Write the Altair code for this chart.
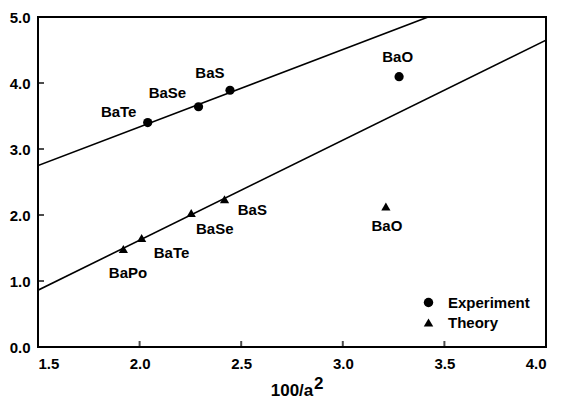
import altair as alt
import pandas as pd

# --- data ---
exp_names = ["BaTe", "BaSe", "BaS", "BaO"]
exp_x = [2.04, 2.29, 2.445, 3.277]
exp_y = [3.40, 3.64, 3.89, 4.095]
exp_lbl_x = [1.897, 2.137, 2.346, 3.27]
exp_lbl_y = [3.565, 3.85, 4.15, 4.40]

th_names = ["BaPo", "BaTe", "BaSe", "BaS", "BaO"]
th_x = [1.92, 2.01, 2.254, 2.418, 3.212]
th_y = [1.485, 1.65, 2.03, 2.24, 2.13]
th_lbl_x = [1.943, 2.157, 2.37, 2.555, 3.217]
th_lbl_y = [1.12, 1.43, 1.79, 2.076, 1.833]

# fitted lines (endpoints)
line_id = ["exp", "exp", "th", "th"]
line_x = [1.5, 3.42, 1.5, 4.0]
line_y = [2.75, 5.0, 0.86, 4.65]

x_ticks = [1.5, 2.0, 2.5, 3.0, 3.5, 4.0]
y_ticks = [0.0, 1.0, 2.0, 3.0, 4.0, 5.0]

FONT = "Liberation Sans"
FS = 15

pts = pd.DataFrame({
    "x": exp_x + th_x,
    "y": exp_y + th_y,
    "series": ["Experiment"] * len(exp_x) + ["Theory"] * len(th_x),
})
lbls = pd.DataFrame({
    "x": exp_lbl_x + th_lbl_x,
    "y": exp_lbl_y + th_lbl_y,
    "name": exp_names + th_names,
})
lines = pd.DataFrame({"id": line_id, "x": line_x, "y": line_y})
xt = pd.DataFrame({"x": x_ticks, "y": [0.0] * len(x_ticks)})
yt = pd.DataFrame({"x": [1.5] * len(y_ticks), "y": y_ticks})

xscale = alt.Scale(domain=[1.5, 4.0], nice=False, zero=False)
yscale = alt.Scale(domain=[0, 5], nice=False, zero=True)

xaxis = alt.Axis(values=x_ticks, format=".1f", title=None, ticks=False, domain=False,
                 grid=False, labelPadding=9, labelFontSize=FS, labelFontWeight="bold",
                 labelFont=FONT, labelColor="black")
yaxis = alt.Axis(values=y_ticks, format=".1f", title=None, ticks=False, domain=False,
                 grid=False, labelPadding=8, labelFontSize=FS, labelFontWeight="bold",
                 labelFont=FONT, labelColor="black")

X = alt.X("x:Q", scale=xscale, axis=xaxis)
Y = alt.Y("y:Q", scale=yscale, axis=yaxis)

line_layer = alt.Chart(lines).mark_line(color="black", strokeWidth=1.6, clip=True).encode(
    x=X, y=Y, detail="id:N")

point_layer = alt.Chart(pts).mark_point(filled=True, color="black", opacity=1, size=85).encode(
    x=X, y=Y,
    shape=alt.Shape("series:N",
                    scale=alt.Scale(domain=["Experiment", "Theory"], range=["circle", "triangle-up"]),
                    legend=alt.Legend(title=None, orient="none", legendX=383, legendY=278,
                                      labelFont=FONT, labelFontSize=FS, labelFontWeight="bold",
                                      labelColor="black", symbolFillColor="black",
                                      symbolStrokeColor="black", symbolSize=90,
                                      labelOffset=12, rowPadding=4, padding=0)),
)

label_layer = alt.Chart(lbls).mark_text(font=FONT, fontSize=FS, fontWeight="bold",
                                        color="black").encode(x=X, y=Y, text="name:N")

xtick_layer = alt.Chart(xt).mark_tick(orient="vertical", size=6, thickness=2,
                                      yOffset=-3, color="black").encode(x=X, y=Y)
ytick_layer = alt.Chart(yt).mark_tick(orient="horizontal", size=6, thickness=2,
                                      xOffset=3, color="black").encode(x=X, y=Y)

title_df = pd.DataFrame({"t": ["100/a"]})
sup_df = pd.DataFrame({"t": ["2"]})
title_layer = alt.Chart(title_df).mark_text(font=FONT, fontSize=17, fontWeight="bold",
                                            color="black", align="center",
                                            baseline="alphabetic").encode(
    x=alt.value(254), y=alt.value(379), text="t:N")
sup_layer = alt.Chart(sup_df).mark_text(font=FONT, fontSize=17, fontWeight="bold",
                                        color="black", align="left",
                                        baseline="alphabetic").encode(
    x=alt.value(276), y=alt.value(372), text="t:N")

chart = alt.layer(line_layer, xtick_layer, ytick_layer, point_layer, label_layer,
                  title_layer, sup_layer).properties(
    width=508, height=330,
    autosize=alt.AutoSizeParams(type="none"),
    padding={"left": 30, "top": 9, "right": 11, "bottom": 54},
    background="white",
).configure_view(stroke="black", strokeWidth=2)

chart.save("out.html", embed_options={"renderer": "svg", "actions": False})
